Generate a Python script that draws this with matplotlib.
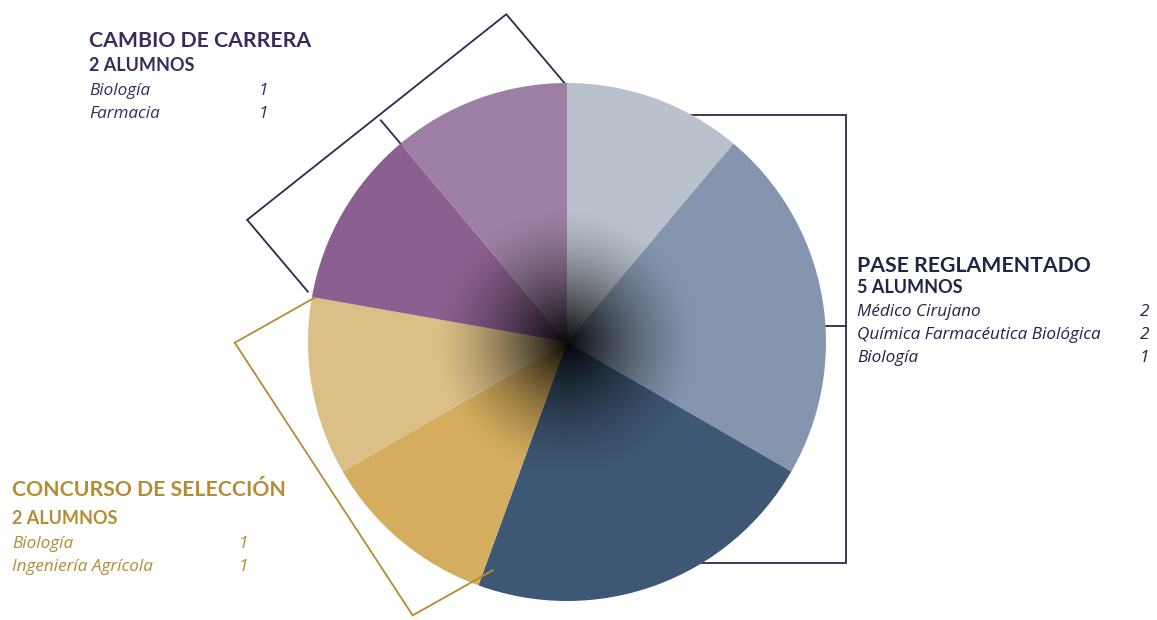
import numpy as np
import matplotlib.pyplot as plt

# ---- data ----
pase_careers = ['Médico Cirujano', 'Química Farmacéutica Biológica', 'Biología']
pase_counts = [2, 2, 1]
concurso_careers = ['Biología', 'Ingeniería Agrícola']
concurso_counts = [1, 1]
cambio_careers = ['Biología', 'Farmacia']
cambio_counts = [1, 1]

group_titles = ['PASE REGLAMENTADO', 'CONCURSO DE SELECCIÓN', 'CAMBIO DE CARRERA']

# slice colours, clockwise from 12 o'clock
slice_colors = ['#b9c1cd', '#8595ae', '#3e5774',   # pase
                '#d4ad5e', '#dcbf86',              # concurso
                '#8b5f8f', '#9d7fa3']              # cambio

NAVY = '#1f2546'
PURPLE = '#3b2a5e'
GOLD = '#b58b34'

W, H = 1157, 620
fig = plt.figure(figsize=(W / 100, H / 100), dpi=100)
ax = fig.add_axes([0, 0, 1, 1])


def Y(y):
    # pixel row (from top) -> data y
    return H - y


cx, cy, R = 567, Y(342), 259

values = pase_counts[::-1] + concurso_counts + cambio_counts
wedges, _ = ax.pie(values, colors=slice_colors, startangle=90, counterclock=False,
                   center=(cx, cy), radius=R,
                   wedgeprops=dict(linewidth=0, zorder=2))

# dark radial shading toward the centre
n = 400
Rs = 135
gx, gy = np.meshgrid(np.linspace(-Rs, Rs, n), np.linspace(-Rs, Rs, n))
rr = np.hypot(gx, gy) / Rs
alpha = 0.95 * np.clip(1 - rr, 0, 1) ** 1.5
img = np.zeros((n, n, 4))
img[..., 3] = alpha
ax.imshow(img, extent=(cx - Rs, cx + Rs, cy - Rs, cy + Rs), zorder=3,
          interpolation='bilinear')

# group boundary angles from the data
total = sum(values)
cum = np.cumsum([0] + values)
ang = 90 - 360 * cum / total   # degrees
n_pase = len(pase_counts)
n_conc = len(concurso_counts)


def pt(a, r):
    t = np.radians(a)
    return np.array([cx + r * np.cos(t), cy + r * np.sin(t)])


def rotated_bracket(a1, a2, color, ticks=(), d=92, r1=R - 3, r2=R - 3, z=1):
    p1, p2 = pt(a1, r1), pt(a2, r2)
    m = (p1 + p2) / 2
    nv = (m - np.array([cx, cy]))
    nv = nv / np.linalg.norm(nv)
    c1, c2 = p1 + d * nv, p2 + d * nv
    xs = [p1[0], c1[0], c2[0], p2[0]]
    ys = [p1[1], c1[1], c2[1], p2[1]]
    ax.plot(xs, ys, color=color, lw=1.3, zorder=z, solid_joinstyle='miter')
    for b in ticks:
        pb = pt(b, R - 3)
        t = np.dot(c1 - pb, nv)
        q = pb + t * nv
        ax.plot([pb[0], q[0]], [pb[1], q[1]], color=color, lw=1.3, zorder=z)


# cambio de carrera bracket (upper left)
rotated_bracket(ang[-1], ang[n_pase + n_conc] - 1, '#2e2850', ticks=[ang[-2]],
                d=94, r2=R + 5)
# concurso de seleccion bracket (lower left)
rotated_bracket(ang[n_pase + n_conc], ang[n_pase] + 2, GOLD, r2=R - 19, z=4)

# pase reglamentado bracket (right)
bx = cx + R + 20
top, bot = cy + 227, cy - 221
ax.plot([cx, bx, bx, cx], [top, top, bot, bot], color='#2c2b4a', lw=1.3,
        zorder=1, solid_joinstyle='miter')
ax.plot([cx, bx], [cy + 16, cy + 16], color='#2c2b4a', lw=1.3, zorder=1)

TITLE_FONT = dict(family=['Lato', 'DejaVu Sans'], fontweight='bold')
ITEM_FONT = dict(family=['Open Sans', 'DejaVu Sans'], style='italic')


def block(x, y_title, y_sub, y_items, num_x, title, total_n, careers, counts, color):
    ax.text(x, Y(y_title), title, color=color, fontsize=15.3, va='baseline',
            ha='left', **TITLE_FONT)
    ax.text(x, Y(y_sub), f'{total_n} ALUMNOS', color=color, fontsize=13,
            va='baseline', ha='left', **TITLE_FONT)
    for i, (c, v) in enumerate(zip(careers, counts)):
        yy = Y(y_items[0] + i * (y_items[1] - y_items[0]))
        ax.text(x, yy, c, color=color, fontsize=12.3, va='baseline', ha='left',
                **ITEM_FONT)
        ax.text(num_x, yy, str(v), color=color, fontsize=12.3, va='baseline',
                ha='right', **ITEM_FONT)


block(89, 47, 71, (95, 118), 268, group_titles[2], sum(cambio_counts),
      cambio_careers, cambio_counts, PURPLE)
block(857, 272, 293, (316, 339), 1149, group_titles[0], sum(pase_counts),
      pase_careers, pase_counts, NAVY)
block(12, 496, 524, (548, 571), 248, group_titles[1], sum(concurso_counts),
      concurso_careers, concurso_counts, GOLD)

ax.set_xlim(0, W)
ax.set_ylim(0, H)
ax.set_aspect('equal')
ax.axis('off')

fig.savefig('out.png', dpi=100, facecolor='white')
